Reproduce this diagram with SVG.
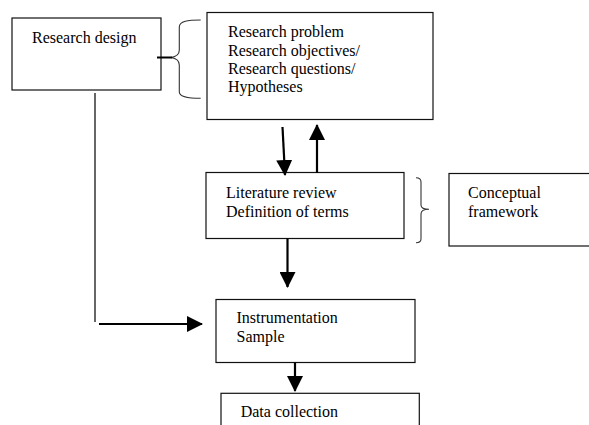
<svg xmlns="http://www.w3.org/2000/svg" width="589" height="425" viewBox="0 0 589 425">
<defs>
<style>
.box{fill:#fff;stroke:#111;stroke-width:1.2}
.br{fill:none;stroke:#333;stroke-width:1.1}
.ln{fill:none;stroke:#000;stroke-width:2.2}
</style>
<marker id="ah" markerUnits="userSpaceOnUse" markerWidth="16" markerHeight="16" viewBox="0 0 16 16" refX="15" refY="8" orient="auto">
<path d="M0,0 L16,8 L0,16 Z" fill="#000"/>
</marker>
</defs>
<rect width="589" height="425" fill="#fff"/>
<g font-family="Liberation Serif, serif" font-size="16" fill="#000">
<g id="research-design">
<rect class="box" x="12" y="18" width="149" height="72"/>
<text x="32" y="43">Research design</text>
</g>
<g id="research-problem">
<rect class="box" x="207" y="12.5" width="226" height="107"/>
<text><tspan x="228" y="37.3">Research problem</tspan><tspan x="228" y="55.7">Research objectives/</tspan><tspan x="228" y="74">Research questions/</tspan><tspan x="228" y="92.3">Hypotheses</tspan></text>
</g>
<g id="literature-review">
<rect class="box" x="206" y="172.5" width="198" height="66"/>
<text><tspan x="226" y="198.3">Literature review</tspan><tspan x="226" y="216.7">Definition of terms</tspan></text>
</g>
<g id="conceptual-framework">
<rect class="box" x="449" y="173.5" width="145" height="72.5"/>
<text><tspan x="468" y="198.3">Conceptual</tspan><tspan x="468" y="216.7">framework</tspan></text>
</g>
<g id="instrumentation">
<rect class="box" x="216" y="299.5" width="199" height="63"/>
<text><tspan x="236.5" y="323.3">Instrumentation</tspan><tspan x="236.5" y="341.7">Sample</tspan></text>
</g>
<g id="data-collection">
<rect class="box" x="221" y="393.3" width="198.3" height="40"/>
<text x="240.7" y="416.7">Data collection</text>
</g>
</g>
<g id="connectors">
<path class="br" d="M200.7,20 C188,20 179.3,21 179.3,27 L179.3,50 C179.3,54 176,56.7 171,57.5 C176,58.3 179.3,61 179.3,65 L179.3,92 C179.3,97 188,98.3 200.7,98.3"/>
<line x1="157" y1="57.5" x2="172" y2="57.5" stroke="#000" stroke-width="2"/>
<path class="br" d="M416,177.7 C419,177.7 421,179 421,182 L421,205 C421,207.5 424,209.3 429,209.3 C424,209.3 421,211 421,214 L421,239 C421,241.5 419,242.7 416,242.7"/>
<line class="ln" x1="282.5" y1="127" x2="285" y2="175" marker-end="url(#ah)"/>
<line class="ln" x1="317" y1="173" x2="317" y2="125" marker-end="url(#ah)"/>
<line class="ln" x1="287.5" y1="238.5" x2="287.5" y2="287" marker-end="url(#ah)"/>
<line class="ln" x1="295" y1="362.5" x2="295" y2="391" marker-end="url(#ah)"/>
<line x1="95" y1="93" x2="95" y2="322" stroke="#000" stroke-width="1.2"/>
<line class="ln" x1="99" y1="324" x2="202" y2="324" marker-end="url(#ah)"/>
</g>
</svg>
